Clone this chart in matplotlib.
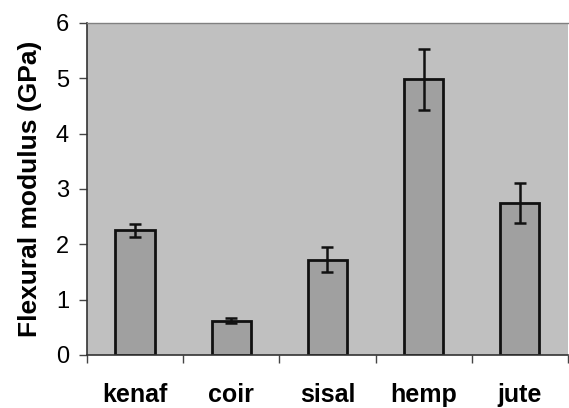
import numpy as np
import matplotlib
matplotlib.use('Agg')
import matplotlib.pyplot as plt

# data
fibres = ['kenaf', 'coir', 'sisal', 'hemp', 'jute']
modulus = [2.25, 0.62, 1.72, 4.98, 2.75]
modulus_err = [0.12, 0.05, 0.23, 0.55, 0.36]

plt.rcParams['font.family'] = ['Liberation Sans', 'DejaVu Sans']

fig = plt.figure(figsize=(5.69, 4.08), dpi=100)
ax = fig.add_axes([0.153, 0.130, 0.845, 0.814])
ax.set_facecolor('#c0c0c0')

x = np.arange(len(fibres))
ax.bar(x, modulus, width=0.41, color='#a0a0a0', edgecolor='#111111', linewidth=2,
       yerr=modulus_err, capsize=4.5,
       error_kw=dict(ecolor='#111111', elinewidth=1.8, capthick=1.8))

ax.set_xlim(-0.5, len(fibres) - 0.5)
ax.set_ylim(0, 6)
ax.set_yticks(range(7))
ax.tick_params(axis='y', labelsize=17, length=6, width=1, pad=7, color='#444444')

# category labels at centres, tick marks on the boundaries
ax.set_xticks(x)
ax.set_xticklabels(fibres, fontsize=18, fontweight='bold')
ax.tick_params(axis='x', which='major', length=0, pad=20)
ax.set_xticks(np.arange(len(fibres) + 1) - 0.5, minor=True)
ax.tick_params(axis='x', which='minor', length=6, width=1, color='#444444')

ax.set_ylabel('Flexural modulus (GPa)', fontsize=19, fontweight='bold', labelpad=10)

for s in ['left', 'bottom']:
    ax.spines[s].set_color('#333333')
    ax.spines[s].set_linewidth(1.2)
ax.spines['top'].set_color('#808080')
ax.spines['top'].set_linewidth(1)
ax.spines['right'].set_visible(False)

fig.savefig('out.png', dpi=100)
